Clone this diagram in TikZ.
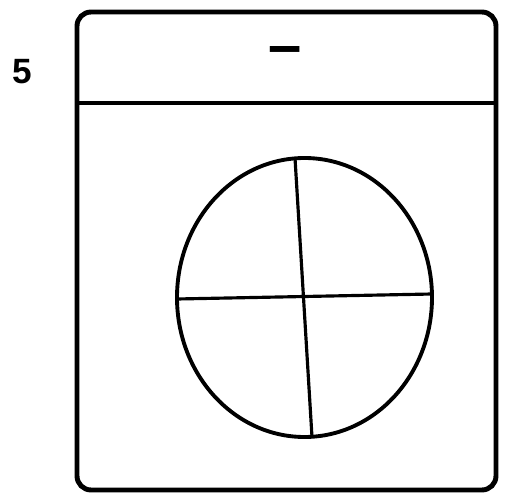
\documentclass[tikz,border=0pt]{standalone}
\usepackage{fontspec}
\setmainfont{Liberation Sans}
\usetikzlibrary{calc}
\begin{document}
\begin{tikzpicture}[x=0.02cm, y=-0.02cm,
  frame/.style={line width=2.8pt, rounded corners=8pt},
  rim/.style={line width=2.2pt},
  cut/.style={line width=1.8pt},
  num/.style={font=\fontsize{20}{20}\selectfont\bfseries, inner sep=0pt},
]
\useasboundingbox (0,0) rectangle (515,497);

% ====== Frame with top strip ======
\draw[frame] (77,12) rectangle (496,490);
\coordinate (sl) at (77,103);
\coordinate (sr) at (496,103);
\draw[frame] (sl) -- (sr);
\node[num] (qno) at (22,72) {5};
\node[font=\fontsize{34}{34}\selectfont\bfseries, inner sep=0pt] (blank) at (285,56) {–};

% ====== Oval cut in four ======
\draw[rim] (304.5,297.5) ellipse [x radius=127.5, y radius=139.5];
\coordinate (top) at (295,158);
\coordinate (bot) at (312,437);
\coordinate (lft) at (177,299);
\coordinate (rgt) at (432,294);
\draw[cut] (top) -- (bot);
\draw[cut] (lft) -- (rgt);

\end{tikzpicture}
\end{document}
